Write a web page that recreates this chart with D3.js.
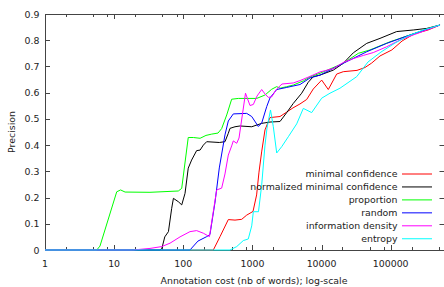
<!DOCTYPE html>
<html>
<head>
<meta charset="utf-8">
<script src="https://cdn.jsdelivr.net/npm/d3@7"></script>
<style>
    body { margin: 0; background: #fff; }
    svg { display: block; font-family: "DejaVu Sans", sans-serif; }
</style>
</head>
<body>
<div id="chart"></div>
<script>
// series: [annotation cost in words, precision]
const minimalConfidence = [[1,0],[272,0],[340,0.051],[448,0.116],[560,0.114],[700,0.117],[827,0.133],[1020,0.147],[1150,0.21],[1245,0.297],[1360,0.374],[1520,0.458],[1795,0.505],[2506,0.509],[3133,0.526],[3863,0.542],[4875,0.557],[6095,0.574],[7590,0.614],[10040,0.648],[12510,0.612],[16550,0.671],[20600,0.68],[32550,0.685],[42500,0.696],[53100,0.713],[70000,0.74],[104000,0.763],[146000,0.797],[217000,0.824],[347000,0.839],[517000,0.858]];
const normalizedMinConf = [[1,0],[46,0],[49,0.006],[54,0.05],[61,0.07],[68,0.159],[72,0.197],[85,0.184],[95,0.172],[106,0.216],[118,0.312],[132,0.343],[156,0.379],[175,0.381],[195,0.4],[218,0.413],[332,0.41],[401,0.413],[448,0.445],[474,0.464],[560,0.47],[661,0.473],[977,0.47],[1362,0.483],[1795,0.488],[2506,0.49],[3133,0.524],[3900,0.559],[5160,0.598],[6430,0.64],[7600,0.661],[9490,0.667],[14800,0.686],[20600,0.712],[28800,0.752],[45000,0.788],[70000,0.807],[122000,0.833],[212000,0.839],[332000,0.845],[517000,0.858]];
const proportion = [[1,0],[5.6,0],[6.24,0.015],[10.9,0.222],[12.4,0.229],[14.4,0.221],[33,0.22],[84.7,0.225],[94.9,0.235],[118,0.429],[140,0.429],[175,0.426],[213,0.437],[258,0.442],[318,0.446],[359,0.463],[425,0.515],[501,0.575],[625,0.578],[1153,0.578],[1520,0.591],[1900,0.613],[2246,0.623],[2506,0.617],[3133,0.623],[3900,0.629],[5447,0.645],[6800,0.66],[9490,0.674],[20600,0.712],[34000,0.75],[50200,0.763],[97700,0.794],[190000,0.82],[332000,0.842],[517000,0.858]];
const random = [[1,0],[125,0],[163,0.034],[218,0.051],[243,0.059],[288,0.183],[332,0.313],[372,0.389],[401,0.439],[448,0.492],[529,0.519],[827,0.521],[977,0.509],[1217,0.471],[1362,0.484],[1610,0.547],[1795,0.58],[2246,0.612],[3133,0.62],[4875,0.631],[6800,0.656],[9490,0.667],[20600,0.712],[45000,0.756],[87500,0.788],[190000,0.82],[517000,0.858]];
const informationDensity = [[1,0],[18.7,0],[33,0.006],[48.7,0.013],[64.3,0.026],[89.7,0.05],[125,0.07],[156,0.074],[195,0.064],[239,0.051],[304,0.229],[359,0.236],[401,0.29],[448,0.362],[501,0.397],[529,0.416],[593,0.407],[640,0.427],[794,0.598],[923,0.551],[1031,0.555],[1165,0.587],[1362,0.612],[1520,0.595],[1698,0.582],[1900,0.584],[2246,0.614],[2679,0.633],[3900,0.637],[4875,0.646],[6800,0.662],[9490,0.679],[14780,0.692],[20600,0.715],[28800,0.73],[40160,0.742],[56000,0.753],[87500,0.775],[136300,0.801],[212000,0.82],[332000,0.839],[517000,0.858]];
const entropy = [[1,0],[474,0],[593,0.013],[738,0.036],[871,0.042],[977,0.092],[1031,0.146],[1224,0.146],[1362,0.248],[1520,0.4],[1625,0.465],[1827,0.534],[2006,0.47],[2246,0.37],[2652,0.394],[3305,0.432],[4368,0.481],[5447,0.54],[7198,0.524],[10040,0.579],[13250,0.598],[18480,0.617],[32230,0.661],[46950,0.717],[72400,0.755],[115300,0.789],[177900,0.816],[296000,0.839],[517000,0.858]];

const seriesNames = ['minimal confidence', 'normalized minimal confidence', 'proportion', 'random', 'information density', 'entropy'];
const seriesData = [minimalConfidence, normalizedMinConf, proportion, random, informationDensity, entropy];
const seriesColors = ['#ff0000', '#000000', '#00ff00', '#0000ff', '#ff00ff', '#00ffff'];

const xTickValues = [1, 10, 100, 1000, 10000, 100000];
const yTickValues = [0, 0.1, 0.2, 0.3, 0.4, 0.5, 0.6, 0.7, 0.8, 0.9];

const width = 444, height = 287;
const plotLeft = 45, plotTop = 14, plotBottom = 250, plotRight = 444.5;

const svg = d3.select('#chart')
    .append('svg')
    .attr('width', width)
    .attr('height', height);

const x = d3.scaleLog().domain([1, 600000]).range([plotLeft, plotRight]);
const y = d3.scaleLinear().domain([0, 0.9]).range([plotBottom, plotTop]);

// minor ticks at 2, 5, 8 of each decade
const minorTicks = [];
d3.range(0, 6).forEach(e => {
    [2, 5, 8].forEach(m => {
        const v = m * Math.pow(10, e);
        if (v < 600000) minorTicks.push(v);
    });
});

const axisColor = '#444';
const ticks = svg.append('g').attr('stroke', axisColor).attr('stroke-width', 1);

xTickValues.forEach(v => {
    const px = Math.round(x(v)) + 0.5;
    ticks.append('line').attr('x1', px).attr('x2', px).attr('y1', plotBottom).attr('y2', plotBottom - 5);
    ticks.append('line').attr('x1', px).attr('x2', px).attr('y1', plotTop).attr('y2', plotTop + 5);
});
minorTicks.forEach(v => {
    const px = Math.round(x(v)) + 0.5;
    ticks.append('line').attr('x1', px).attr('x2', px).attr('y1', plotBottom).attr('y2', plotBottom - 3);
    ticks.append('line').attr('x1', px).attr('x2', px).attr('y1', plotTop).attr('y2', plotTop + 3);
});
yTickValues.forEach(v => {
    const py = Math.round(y(v)) + 0.5;
    ticks.append('line').attr('x1', plotLeft).attr('x2', plotLeft + 5).attr('y1', py).attr('y2', py);
    ticks.append('line').attr('x1', plotRight - 5).attr('x2', plotRight).attr('y1', py).attr('y2', py);
});

svg.append('rect')
    .attr('x', plotLeft + 0.5)
    .attr('y', plotTop + 0.5)
    .attr('width', plotRight - plotLeft)
    .attr('height', plotBottom - plotTop)
    .attr('fill', 'none')
    .attr('stroke', axisColor);

svg.append('g')
    .selectAll('text')
    .data(xTickValues)
    .enter()
    .append('text')
    .attr('x', d => x(d))
    .attr('y', 267)
    .attr('text-anchor', 'middle')
    .attr('font-size', '9.4px')
    .attr('fill', '#222')
    .text(d => d);

svg.append('g')
    .selectAll('text')
    .data(yTickValues)
    .enter()
    .append('text')
    .attr('x', 39.5)
    .attr('y', d => y(d) + 3.5)
    .attr('text-anchor', 'end')
    .attr('font-size', '9.4px')
    .attr('fill', '#222')
    .text(d => d === 0 ? '0' : d.toFixed(1));

svg.append('text')
    .attr('x', 254)
    .attr('y', 284)
    .attr('text-anchor', 'middle')
    .attr('font-size', '9.4px')
    .attr('fill', '#222')
    .text('Annotation cost (nb of words); log-scale');

svg.append('text')
    .attr('transform', 'translate(14.5,132) rotate(-90)')
    .attr('text-anchor', 'middle')
    .attr('font-size', '9.4px')
    .attr('fill', '#222')
    .text('Precision');

const line = d3.line()
    .x(d => x(d[0]))
    .y(d => y(d[1]));

svg.append('g')
    .selectAll('path')
    .data(seriesData)
    .enter()
    .append('path')
    .attr('d', line)
    .attr('fill', 'none')
    .attr('stroke', (d, i) => seriesColors[i])
    .attr('stroke-width', 1);

const legend = svg.append('g');
seriesNames.forEach((name, i) => {
    const ly = 174 + i * 12.95;
    legend.append('text')
        .attr('x', 397.5)
        .attr('y', ly + 3.4)
        .attr('text-anchor', 'end')
        .attr('font-size', '9.4px')
        .attr('fill', '#222')
        .text(name);
    legend.append('line')
        .attr('x1', 402)
        .attr('x2', 432)
        .attr('y1', ly)
        .attr('y2', ly)
        .attr('stroke', seriesColors[i])
        .attr('stroke-width', 1);
});
</script>
</body>
</html>
